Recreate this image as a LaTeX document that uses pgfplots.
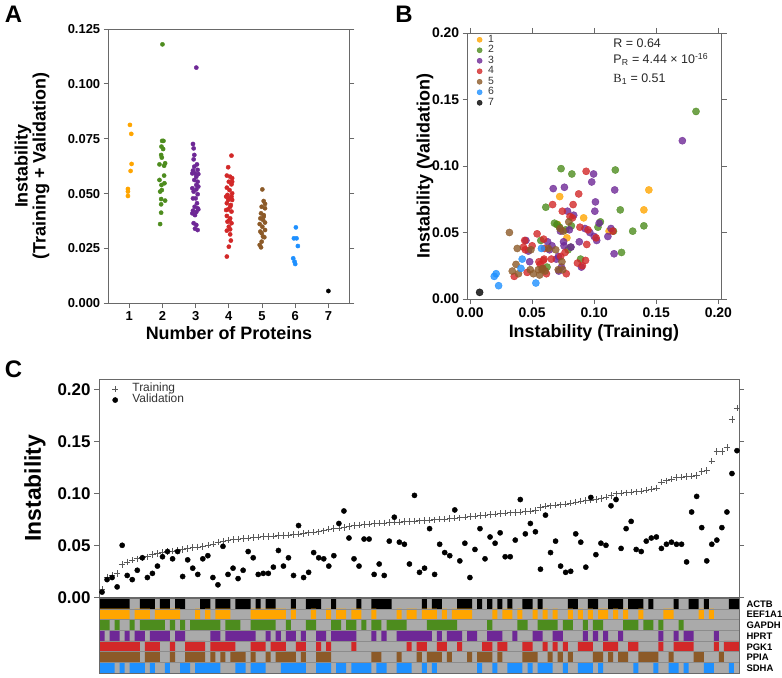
\documentclass[border=0pt]{standalone}
\usepackage{fontspec}
\setmainfont{Liberation Sans}
\newfontfamily\serifB{Liberation Serif}
\usepackage{pgfplots}
\usepackage{pgfplotstable}
\pgfplotsset{compat=1.18}
\definecolor{cOr}{RGB}{255,165,0}
\definecolor{cGr}{RGB}{77,140,30}
\definecolor{cPu}{RGB}{110,40,150}
\definecolor{cRe}{RGB}{210,40,40}
\definecolor{cBr}{RGB}{140,90,40}
\definecolor{cBl}{RGB}{30,144,255}
\definecolor{cBk}{RGB}{0,0,0}
\definecolor{hg}{RGB}{170,170,170}
\definecolor{hsep}{RGB}{140,140,140}
\definecolor{sp}{RGB}{105,105,105}
\newcommand{\fsz}[1]{\fontsize{#1}{#1}\selectfont}
\pgfplotsset{myax/.style={scale only axis, axis line style={sp, line width=0.8bp},
  tick style={sp, line width=0.8bp}, tick align=outside, major tick length=5bp,
  /pgf/number format/assume math mode=true, scaled ticks=false}}

\pgfplotstableread{
i t v
1 0.0077 0.005
2 0.0195 0.017
3 0.021 0.019
4 0.023 0.010
5 0.0317 0.050
6 0.034 0.021
7 0.0356 0.017
8 0.037 0.026
9 0.038 0.038
10 0.039 0.019
11 0.041 0.023
12 0.042 0.030
13 0.043 0.039
14 0.044 0.044
15 0.0445 0.037
16 0.045 0.044
17 0.046 0.020
18 0.047 0.036
19 0.048 0.028
20 0.0485 0.022
21 0.049 0.037
22 0.050 0.040
23 0.051 0.019
24 0.053 0.012
25 0.054 0.049
26 0.055 0.022
27 0.0555 0.028
28 0.056 0.018
29 0.0565 0.026
30 0.057 0.044
31 0.0575 0.038
32 0.058 0.022
33 0.0583 0.023
34 0.0586 0.023
35 0.059 0.029
36 0.0593 0.045
37 0.0596 0.030
38 0.060 0.038
39 0.0605 0.021
40 0.061 0.069
41 0.0615 0.019
42 0.062 0.024
43 0.0625 0.043
44 0.063 0.038
45 0.064 0.037
46 0.0655 0.030
47 0.066 0.040
48 0.0665 0.071
49 0.067 0.083
50 0.068 0.057
51 0.069 0.037
52 0.0695 0.030
53 0.070 0.056
54 0.0705 0.056
55 0.071 0.022
56 0.0712 0.032
57 0.0715 0.021
58 0.072 0.054
59 0.0722 0.077
60 0.0725 0.053
61 0.0728 0.051
62 0.073 0.032
63 0.0733 0.098
64 0.0736 0.024
65 0.074 0.028
66 0.0743 0.066
67 0.0746 0.022
68 0.075 0.051
69 0.0753 0.043
70 0.0757 0.040
71 0.076 0.084
72 0.0765 0.035
73 0.077 0.052
74 0.0775 0.019
75 0.078 0.046
76 0.0785 0.066
77 0.079 0.037
78 0.0795 0.058
79 0.080 0.052
80 0.0805 0.062
81 0.081 0.039
82 0.0813 0.039
83 0.0816 0.055
84 0.082 0.094
85 0.0825 0.061
86 0.083 0.071
87 0.0835 0.063
88 0.0865 0.027
89 0.0875 0.079
90 0.088 0.043
91 0.0885 0.054
92 0.089 0.030
93 0.0897 0.024
94 0.0905 0.025
95 0.0915 0.061
96 0.0925 0.053
97 0.093 0.029
98 0.0935 0.096
99 0.094 0.041
100 0.095 0.052
101 0.0965 0.050
102 0.098 0.088
103 0.0995 0.094
104 0.100 0.047
105 0.1005 0.066
106 0.101 0.073
107 0.1015 0.046
108 0.102 0.044
109 0.103 0.054
110 0.104 0.057
111 0.105 0.058
112 0.111 0.047
113 0.112 0.051
114 0.1135 0.053
115 0.115 0.051
116 0.1155 0.051
117 0.116 0.034
118 0.1165 0.082
119 0.117 0.097
120 0.121 0.067
121 0.122 0.035
122 0.131 0.051
123 0.140 0.055
124 0.140 0.067
125 0.144 0.082
126 0.171 0.119
127 0.182 0.141
}\dataC

\begin{document}
\begin{tikzpicture}
\path[use as bounding box] (0,0) rectangle (782bp,678bp);

% ---------------- Panel A
\begin{axis}[myax, at={(108.7bp,374.7bp)}, anchor=south west, width=240.6bp, height=274.3bp,
  xmin=0.38, xmax=7.63, ymin=0, ymax=0.125,
  xtick={1,2,3,4,5,6,7}, xtick pos=left,
  ytick={0,0.025,0.05,0.075,0.1,0.125}, yticklabels={0.000,0.025,0.050,0.075,0.100,0.125},
  ytick pos=both,
  ticklabel style={font=\bfseries\fsz{13}},
  xlabel={Number of Proteins}, ylabel={Instability\\(Training + Validation)},
  label style={font=\bfseries\fsz{18}},
  ylabel style={align=center, at={(axis description cs:-0.319,0.5)}, anchor=center},
  xlabel style={at={(axis description cs:0.5,-0.108)}, anchor=center}]
\addplot[only marks, mark=*, mark size=2.1bp, color=cOr] table {
x y
1.02 0.0813
1.06 0.0772
1.07 0.0635
1.04 0.0603
0.96 0.0521
0.96 0.0509
0.96 0.0489
};
\addplot[only marks, mark=*, mark size=2.1bp, color=cGr] table {
x y
2.00 0.1180
1.99 0.0740
2.03 0.0740
1.97 0.0714
2.02 0.0703
1.96 0.0676
1.98 0.0664
1.91 0.0633
2.08 0.0638
2.05 0.0582
1.91 0.0562
1.97 0.0539
2.06 0.0547
1.98 0.0516
1.96 0.0475
2.08 0.0468
1.96 0.0451
1.96 0.0413
1.93 0.0361
2.05 0.0627
1.93 0.0509
};
\addplot[only marks, mark=*, mark size=2.1bp, color=cPu] table {
x y
3.02 0.1074
2.92 0.0726
2.94 0.0706
2.96 0.0676
2.94 0.0656
3.04 0.0633
3.06 0.0608
2.92 0.0605
2.98 0.0592
3.08 0.0589
3.02 0.0577
2.96 0.0562
3.06 0.0554
2.90 0.0524
3.02 0.0519
2.94 0.0509
3.06 0.0497
3.00 0.0478
3.04 0.0456
2.97 0.0440
3.06 0.0433
2.92 0.0422
3.02 0.0416
2.90 0.0410
2.98 0.0402
3.08 0.0428
2.94 0.0365
3.02 0.0357
2.98 0.0340
3.06 0.0334
2.92 0.0478
3.08 0.0532
2.96 0.0623
3.02 0.0539
2.90 0.0592
};
\addplot[only marks, mark=*, mark size=2.1bp, color=cRe] table {
x y
4.08 0.0673
3.98 0.0620
3.94 0.0582
4.04 0.0577
4.10 0.0570
4.00 0.0554
4.08 0.0542
3.94 0.0527
4.02 0.0516
3.96 0.0494
4.08 0.0486
4.00 0.0478
4.10 0.0471
3.94 0.0456
4.04 0.0440
3.98 0.0428
4.08 0.0418
3.94 0.0398
4.04 0.0387
3.96 0.0372
4.08 0.0365
4.00 0.0349
3.94 0.0331
4.04 0.0314
4.06 0.0286
4.00 0.0258
3.94 0.0213
4.10 0.0501
3.98 0.0471
4.06 0.0448
3.92 0.0425
4.02 0.0380
4.10 0.0554
3.92 0.0486
4.04 0.0337
};
\addplot[only marks, mark=*, mark size=2.1bp, color=cBr] table {
x y
5.01 0.0519
5.05 0.0466
5.09 0.0453
4.99 0.0440
5.09 0.0433
4.97 0.0410
5.05 0.0402
4.95 0.0387
5.03 0.0380
5.09 0.0368
4.93 0.0361
5.01 0.0349
5.09 0.0334
4.95 0.0327
5.03 0.0304
5.07 0.0301
4.99 0.0281
4.93 0.0266
4.97 0.0255
5.05 0.0395
4.99 0.0319
};
\addplot[only marks, mark=*, mark size=2.1bp, color=cBl] table {
x y
6.02 0.0346
5.96 0.0296
6.04 0.0296
6.08 0.0261
5.94 0.0205
5.98 0.0190
6.00 0.0179
};
\addplot[only marks, mark=*, mark size=2.1bp, color=cBk] table {
x y
7.00 0.0056
};
\end{axis}

% ---------------- Panel B
\begin{axis}[myax, at={(467.7bp,379bp)}, anchor=south west, width=254bp, height=266bp,
  xmin=-0.0019, xmax=0.2027, ymin=0, ymax=0.2,
  xtick={0,0.05,0.1,0.15,0.2}, xticklabels={0.00,0.05,0.10,0.15,0.20},
  ytick={0,0.05,0.1,0.15,0.2}, yticklabels={0.00,0.05,0.10,0.15,0.20},
  xtick pos=both, ytick pos=both, xticklabel pos=left, yticklabel pos=left,
  ticklabel style={font=\bfseries\fsz{14}},
  xlabel={Instability (Training)}, ylabel={Instability (Validation)},
  label style={font=\bfseries\fsz{18}},
  ylabel style={at={(axis description cs:-0.168,0.5)}, anchor=center},
  xlabel style={at={(axis description cs:0.497,-0.128)}, anchor=center},
  legend style={at={(0.036,0.995)}, anchor=north west, draw=none, fill=none,
    font=\fsz{10.5}, text=black!80, row sep=0pt, inner sep=0pt,
    nodes={inner xsep=3bp, inner ysep=0pt, text height=7.6bp, text depth=2.9bp},
    /tikz/every odd column/.append style={column sep=3bp}},
  legend cell align=left,
  legend image code/.code={\draw[mark repeat=2,mark phase=2,#1] plot coordinates {(0cm,0cm) (0.1cm,0cm) (0.2cm,0cm)};},
  legend image post style={mark size=2.6bp},
  every axis plot/.append style={only marks, mark=*, mark size=3.6bp, opacity=0.8}]
\addplot[color=cOr] table {
x y
0.0705 0.056
0.0722 0.077
0.078 0.046
0.0915 0.061
0.112 0.051
0.140 0.067
0.144 0.082
};
\addplot[color=cGr] table {
x y
0.057 0.044
0.061 0.069
0.062 0.024
0.068 0.057
0.070 0.056
0.072 0.054
0.0733 0.098
0.077 0.052
0.079 0.037
0.081 0.039
0.0816 0.055
0.082 0.094
0.089 0.030
0.103 0.054
0.105 0.058
0.1155 0.051
0.117 0.097
0.121 0.067
0.122 0.035
0.131 0.051
0.140 0.055
0.182 0.141
};
\addplot[color=cPu] table {
x y
0.045 0.044
0.047 0.036
0.048 0.028
0.0625 0.043
0.064 0.037
0.066 0.040
0.067 0.083
0.0695 0.030
0.0712 0.032
0.0715 0.021
0.0728 0.051
0.0736 0.024
0.0753 0.043
0.0757 0.040
0.076 0.084
0.0785 0.066
0.080 0.052
0.0813 0.039
0.0835 0.063
0.088 0.043
0.0897 0.024
0.0925 0.053
0.0965 0.050
0.098 0.088
0.0995 0.094
0.100 0.047
0.1005 0.066
0.101 0.073
0.102 0.044
0.104 0.057
0.111 0.047
0.1135 0.053
0.116 0.034
0.1165 0.082
0.171 0.119
};
\addplot[color=cRe] table {
x y
0.0356 0.017
0.043 0.039
0.044 0.044
0.0445 0.037
0.046 0.020
0.050 0.040
0.054 0.049
0.0555 0.028
0.0565 0.026
0.0583 0.023
0.059 0.029
0.0593 0.045
0.0596 0.030
0.060 0.038
0.0615 0.019
0.0655 0.030
0.0665 0.071
0.073 0.032
0.0743 0.066
0.0765 0.035
0.0775 0.019
0.0805 0.062
0.0825 0.061
0.083 0.071
0.0865 0.027
0.0875 0.079
0.0885 0.054
0.0905 0.025
0.093 0.029
0.0935 0.096
0.094 0.041
0.095 0.052
0.1015 0.046
0.115 0.051
};
\addplot[color=cBr] table {
x y
0.0317 0.050
0.034 0.021
0.037 0.026
0.038 0.038
0.039 0.019
0.0485 0.022
0.049 0.037
0.051 0.019
0.055 0.022
0.056 0.018
0.058 0.022
0.0586 0.023
0.0605 0.021
0.063 0.038
0.069 0.037
0.071 0.022
0.0725 0.053
0.074 0.028
0.0746 0.022
0.075 0.051
0.0795 0.058
};
\addplot[color=cBl] table {
x y
0.0195 0.017
0.021 0.019
0.023 0.010
0.041 0.023
0.042 0.030
0.053 0.012
0.0575 0.038
};
\addplot[color=cBk] table {
x y
0.0077 0.005
};
\legend{1,2,3,4,5,6,7}
\node[anchor=west, font=\fsz{12.5}, text=black!85] at (rel axis cs:0.56,0.961) {R = 0.64};
\node[anchor=west, font=\fsz{12.5}, text=black!85] at (rel axis cs:0.56,0.901) {P\textsubscript{R} = 4.44 × 10\textsuperscript{-16}};
\node[anchor=west, font=\fsz{12.5}, text=black!85] at (rel axis cs:0.56,0.826) {{\serifB B}\textsubscript{1} = 0.51};
\end{axis}

% ---------------- Panel C
\begin{axis}[myax, at={(99bp,80.7bp)}, anchor=south west, width=640bp, height=218.3bp,
  xmin=0.4, xmax=127.4, ymin=0, ymax=0.2099,
  xtick=\empty,
  ytick={0,0.05,0.1,0.15,0.2}, yticklabels={0.00,0.05,0.10,0.15,0.20},
  ytick pos=both, yticklabel pos=left,
  ticklabel style={font=\bfseries\fsz{17}},
  ylabel={Instability}, ylabel style={font=\bfseries\fsz{23}, at={(axis description cs:-0.1,0.5)}, anchor=center},
  legend style={at={(0.02,0.98)}, anchor=north west, draw=none, fill=none,
    font=\fsz{12}, text=black!80, row sep=0pt, inner sep=0pt,
    nodes={inner xsep=6bp, inner ysep=0pt, text height=8.4bp, text depth=2.6bp},
    /tikz/every odd column/.append style={column sep=8bp}},
  legend image code/.code={\draw[mark repeat=2,mark phase=2,#1] plot coordinates {(0cm,0cm) (0.1cm,0cm) (0.2cm,0cm)};},
  legend cell align=left]
\addplot[only marks, mark=+, mark size=3.2bp, color=black!65, line width=0.7bp] table[x=i, y=t] {\dataC};
\addplot[only marks, mark=*, mark size=2.6bp, color=black] table[x=i, y=v] {\dataC};
\legend{Training, Validation}
\end{axis}

% ---------------- Heatmap
\begin{axis}[at={(99.5bp,5bp)}, anchor=south west, scale only axis, width=639.5bp, height=75bp,
  xmin=0.5, xmax=127.5, ymin=0, ymax=7, hide axis, clip=false]
\addplot[ybar interval, fill=hg, draw=none] coordinates {(0.5,7) (127.5,7)};
% ACTB
\addplot[ybar interval, fill=black, draw=none] coordinates {(0.5,7)(6.5,0)(8.5,7)(11.5,0)(12.5,7)(14.5,0)(15.5,7)(17.5,0)(20.5,7)(22.5,0)(23.5,7)(26.5,0)(27.5,7)(30.5,0)(31.5,7)(32.5,0)(33.5,7)(35.5,0)(38.5,7)(39.5,0)(41.5,7)(44.5,0)(46.5,7)(47.5,0)(51.5,7)(52.5,0)(54.5,7)(58.5,0)(64.5,7)(65.5,0)(66.5,7)(68.5,0)(71.5,7)(74.5,0)(75.5,7)(76.5,0)(77.5,7)(78.5,0)(79.5,7)(80.5,0)(81.5,7)(82.5,0)(84.5,7)(86.5,0)(87.5,7)(88.5,0)(93.5,7)(95.5,0)(97.5,7)(99.5,0)(101.5,7)(104.5,0)(105.5,7)(108.5,0)(109.5,7)(110.5,0)(114.5,7)(115.5,0)(117.5,7)(119.5,0)(120.5,7)(121.5,0)(125.5,7)(127.5,0)};
\addplot[ybar interval, fill=hg, draw=none] coordinates {(0.5,6) (127.5,6)};
% EEF1A1
\addplot[ybar interval, fill=cOr, draw=none] coordinates {(0.5,6)(6.5,0)(7.5,6)(10.5,0)(11.5,6)(16.5,0)(19.5,6)(20.5,0)(21.5,6)(22.5,0)(23.5,6)(26.5,0)(30.5,6)(37.5,0)(38.5,6)(39.5,0)(42.5,6)(43.5,0)(45.5,6)(46.5,0)(47.5,6)(49.5,0)(50.5,6)(52.5,0)(54.5,6)(55.5,0)(59.5,6)(60.5,0)(61.5,6)(63.5,0)(64.5,6)(67.5,0)(68.5,6)(69.5,0)(70.5,6)(74.5,0)(78.5,6)(79.5,0)(80.5,6)(82.5,0)(83.5,6)(84.5,0)(86.5,6)(87.5,0)(88.5,6)(89.5,0)(90.5,6)(91.5,0)(93.5,6)(94.5,0)(95.5,6)(96.5,0)(97.5,6)(98.5,0)(99.5,6)(101.5,0)(102.5,6)(103.5,0)(104.5,6)(105.5,0)(107.5,6)(108.5,0)(112.5,6)(114.5,0)(119.5,6)(120.5,0)(121.5,6)(122.5,0)(127.5,0)};
\addplot[ybar interval, fill=hg, draw=none] coordinates {(0.5,5) (127.5,5)};
% GAPDH
\addplot[ybar interval, fill=cGr, draw=none] coordinates {(0.5,5)(2.5,0)(3.5,5)(4.5,0)(6.5,5)(7.5,0)(8.5,5)(13.5,0)(14.5,5)(15.5,0)(16.5,5)(17.5,0)(18.5,5)(24.5,0)(25.5,5)(28.5,0)(30.5,5)(35.5,0)(37.5,5)(38.5,0)(41.5,5)(43.5,0)(46.5,5)(48.5,0)(49.5,5)(51.5,0)(52.5,5)(53.5,0)(54.5,5)(56.5,0)(57.5,5)(61.5,0)(65.5,5)(71.5,0)(77.5,5)(78.5,0)(83.5,5)(85.5,0)(87.5,5)(91.5,0)(92.5,5)(94.5,0)(96.5,5)(97.5,0)(98.5,5)(100.5,0)(104.5,5)(107.5,0)(108.5,5)(110.5,0)(111.5,5)(112.5,0)(115.5,5)(116.5,0)(127.5,0)};
\addplot[ybar interval, fill=hg, draw=none] coordinates {(0.5,4) (127.5,4)};
% HPRT
\addplot[ybar interval, fill=cPu, draw=none] coordinates {(0.5,4)(1.5,0)(2.5,4)(4.5,0)(5.5,4)(6.5,0)(7.5,4)(9.5,0)(10.5,4)(14.5,0)(15.5,4)(17.5,0)(22.5,4)(24.5,0)(25.5,4)(31.5,0)(33.5,4)(34.5,0)(35.5,4)(36.5,0)(37.5,4)(39.5,0)(40.5,4)(41.5,0)(43.5,4)(45.5,0)(46.5,4)(51.5,0)(54.5,4)(55.5,0)(56.5,4)(57.5,0)(59.5,4)(66.5,0)(67.5,4)(68.5,0)(69.5,4)(72.5,0)(73.5,4)(75.5,0)(77.5,4)(80.5,0)(82.5,4)(83.5,0)(86.5,4)(88.5,0)(90.5,4)(92.5,0)(96.5,4)(97.5,0)(98.5,4)(99.5,0)(100.5,4)(101.5,0)(103.5,4)(104.5,0)(111.5,4)(112.5,0)(114.5,4)(115.5,0)(116.5,4)(118.5,0)(122.5,4)(123.5,0)(127.5,0)};
\addplot[ybar interval, fill=hg, draw=none] coordinates {(0.5,3) (127.5,3)};
% PGK1
\addplot[ybar interval, fill=cRe, draw=none] coordinates {(0.5,3)(8.5,0)(9.5,3)(12.5,0)(14.5,3)(15.5,0)(17.5,3)(21.5,0)(22.5,3)(27.5,0)(30.5,3)(33.5,0)(34.5,3)(37.5,0)(39.5,3)(41.5,0)(43.5,3)(44.5,0)(45.5,3)(46.5,0)(50.5,3)(51.5,0)(61.5,3)(62.5,0)(63.5,3)(65.5,0)(67.5,3)(69.5,0)(71.5,3)(72.5,0)(76.5,3)(78.5,0)(79.5,3)(81.5,0)(84.5,3)(86.5,0)(88.5,3)(89.5,0)(90.5,3)(91.5,0)(92.5,3)(93.5,0)(95.5,3)(98.5,0)(100.5,3)(103.5,0)(105.5,3)(107.5,0)(111.5,3)(112.5,0)(114.5,3)(118.5,0)(122.5,3)(123.5,0)(124.5,3)(127.5,0)};
\addplot[ybar interval, fill=hg, draw=none] coordinates {(0.5,2) (127.5,2)};
% PPIA
\addplot[ybar interval, fill=cBr, draw=none] coordinates {(0.5,2)(8.5,0)(9.5,2)(12.5,0)(14.5,2)(15.5,0)(17.5,2)(21.5,0)(22.5,2)(23.5,0)(24.5,2)(25.5,0)(26.5,2)(29.5,0)(30.5,2)(31.5,0)(33.5,2)(34.5,0)(35.5,2)(39.5,0)(40.5,2)(41.5,0)(43.5,2)(46.5,0)(54.5,2)(56.5,0)(59.5,2)(60.5,0)(63.5,2)(64.5,0)(65.5,2)(68.5,0)(69.5,2)(70.5,0)(73.5,2)(74.5,0)(75.5,2)(78.5,0)(79.5,2)(80.5,0)(84.5,2)(87.5,0)(89.5,2)(90.5,0)(91.5,2)(92.5,0)(93.5,2)(94.5,0)(98.5,2)(100.5,0)(101.5,2)(102.5,0)(103.5,2)(105.5,0)(107.5,2)(111.5,0)(113.5,2)(114.5,0)(118.5,2)(120.5,0)(123.5,2)(124.5,0)(127.5,0)};
\addplot[ybar interval, fill=hg, draw=none] coordinates {(0.5,1) (127.5,1)};
% SDHA
\addplot[ybar interval, fill=cBl, draw=none] coordinates {(0.5,1)(3.5,0)(4.5,1)(5.5,0)(6.5,1)(9.5,0)(10.5,1)(11.5,0)(13.5,1)(14.5,0)(16.5,1)(18.5,0)(19.5,1)(24.5,0)(27.5,1)(29.5,0)(30.5,1)(33.5,0)(36.5,1)(41.5,0)(43.5,1)(46.5,0)(47.5,1)(49.5,0)(50.5,1)(54.5,0)(55.5,1)(57.5,0)(59.5,1)(62.5,0)(64.5,1)(65.5,0)(66.5,1)(67.5,0)(75.5,1)(76.5,0)(78.5,1)(79.5,0)(81.5,1)(84.5,0)(85.5,1)(86.5,0)(87.5,1)(90.5,0)(92.5,1)(93.5,0)(95.5,1)(98.5,0)(99.5,1)(100.5,0)(106.5,1)(107.5,0)(110.5,1)(111.5,0)(113.5,1)(115.5,0)(116.5,1)(117.5,0)(120.5,1)(122.5,0)(125.5,1)(126.5,0)(127.5,0)};
\draw[hsep, line width=0.4bp] (axis cs:0.5,1) -- (axis cs:127.5,1);
\draw[hsep, line width=0.4bp] (axis cs:0.5,2) -- (axis cs:127.5,2);
\draw[hsep, line width=0.4bp] (axis cs:0.5,3) -- (axis cs:127.5,3);
\draw[hsep, line width=0.4bp] (axis cs:0.5,4) -- (axis cs:127.5,4);
\draw[hsep, line width=0.4bp] (axis cs:0.5,5) -- (axis cs:127.5,5);
\draw[hsep, line width=0.4bp] (axis cs:0.5,6) -- (axis cs:127.5,6);
\draw[sp, line width=0.6bp] (axis cs:0.5,0) rectangle (axis cs:127.5,7);
\node[anchor=west, font=\bfseries\fsz{9.5}] at (axis cs:127.5,6.45) [xshift=4bp] {ACTB};
\node[anchor=west, font=\bfseries\fsz{9.5}] at (axis cs:127.5,5.45) [xshift=4bp] {EEF1A1};
\node[anchor=west, font=\bfseries\fsz{9.5}] at (axis cs:127.5,4.45) [xshift=4bp] {GAPDH};
\node[anchor=west, font=\bfseries\fsz{9.5}] at (axis cs:127.5,3.45) [xshift=4bp] {HPRT};
\node[anchor=west, font=\bfseries\fsz{9.5}] at (axis cs:127.5,2.45) [xshift=4bp] {PGK1};
\node[anchor=west, font=\bfseries\fsz{9.5}] at (axis cs:127.5,1.45) [xshift=4bp] {PPIA};
\node[anchor=west, font=\bfseries\fsz{9.5}] at (axis cs:127.5,0.45) [xshift=4bp] {SDHA};
\end{axis}

% Panel letters
\node[font=\bfseries\fsz{24}] at (13.5bp,664bp) {A};
\node[font=\bfseries\fsz{24}] at (404bp,664bp) {B};
\node[font=\bfseries\fsz{24}] at (13.5bp,309bp) {C};
\end{tikzpicture}
\end{document}
